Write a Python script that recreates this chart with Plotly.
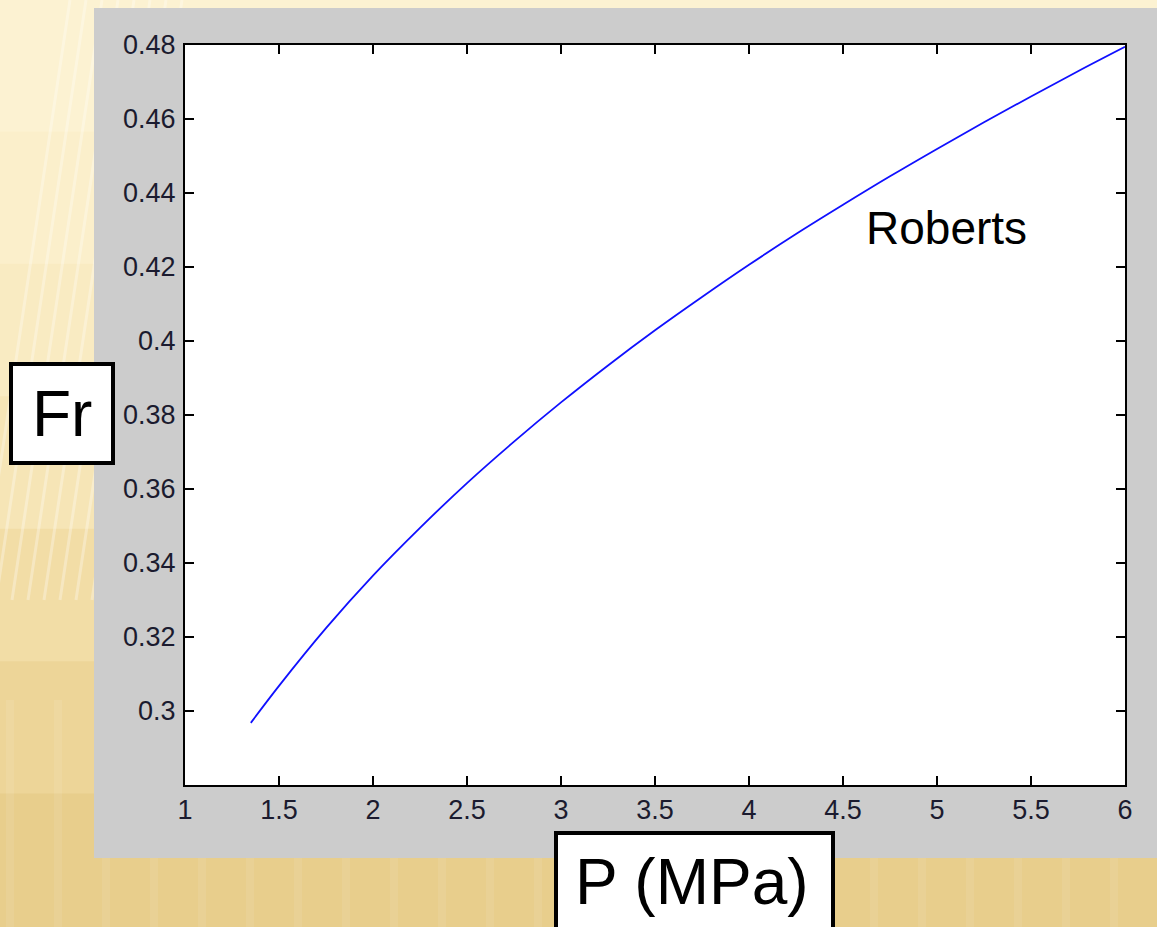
import plotly.graph_objects as go

# ---- data ----
pressure_mpa = [1.35, 1.5, 1.75, 2.0, 2.25, 2.5, 2.75, 3.0, 3.25, 3.5, 3.75,
                4.0, 4.25, 4.5, 4.75, 5.0, 5.25, 5.5, 5.75, 6.0]
fr_roberts = [0.2968, 0.3068, 0.3224, 0.3366, 0.3495, 0.3616, 0.3728, 0.3834,
              0.3934, 0.4029, 0.4119, 0.4206, 0.4289, 0.4368, 0.4445, 0.4519,
              0.4591, 0.4661, 0.4729, 0.4795]

x_tickvals = [1, 1.5, 2, 2.5, 3, 3.5, 4, 4.5, 5, 5.5, 6]
x_ticktext = ["1", "1.5", "2", "2.5", "3", "3.5", "4", "4.5", "5", "5.5", "6"]
y_tickvals = [0.30, 0.32, 0.34, 0.36, 0.38, 0.40, 0.42, 0.44, 0.46, 0.48]
y_ticktext = ["0.3", "0.32", "0.34", "0.36", "0.38", "0.4", "0.42", "0.44", "0.46", "0.48"]

series_label = "Roberts"
x_label = "P (MPa)"
y_label = "Fr"

# ---- layout helpers (pixel -> paper) ----
W, H = 1157, 927
L, R, T, B = 185, 32, 45, 142
PW, PH = W - L - R, H - T - B


def px(x):
    return (x - L) / PW


def py(y):
    return (H - B - y) / PH


fig = go.Figure()
fig.add_trace(go.Scatter(
    x=pressure_mpa, y=fr_roberts, mode="lines",
    line=dict(color="#1010FF", width=1.8, shape="spline"),
    showlegend=False, hoverinfo="x+y",
))

shapes = []
# slide background bands (cream -> golden towards bottom)
band_colors = ["#FCF2D2", "#FBEFCB", "#F9EBC2", "#F6E5B6", "#F2DDA6", "#EDD598", "#E8CE8C"]
n = len(band_colors)
for i, c in enumerate(band_colors):
    shapes.append(dict(type="rect", xref="paper", yref="paper", layer="below",
                       x0=px(-5), x1=px(W + 5), y0=py(H * (i + 1) / n + 1), y1=py(H * i / n - 1),
                       fillcolor=c, line=dict(width=0)))
# faint diagonal stripes on the left strip
for k in range(8):
    x0 = -20 + k * 16
    shapes.append(dict(type="line", xref="paper", yref="paper", layer="below",
                       x0=px(x0), y0=py(600), x1=px(x0 + 90), y1=py(0),
                       line=dict(color="rgba(255,255,255,0.3)", width=3)))
# faint vertical stripes along the bottom strip
for k in range(24):
    xs = 10 + k * 48
    shapes.append(dict(type="line", xref="paper", yref="paper", layer="below",
                       x0=px(xs), y0=py(H + 5), x1=px(xs), y1=py(700),
                       line=dict(color="rgba(255,255,255,0.08)", width=8)))
# gray figure panel
shapes.append(dict(type="rect", xref="paper", yref="paper", layer="below",
                   x0=px(94), x1=px(W + 5), y0=py(858), y1=py(8),
                   fillcolor="#CCCCCC", line=dict(width=0)))
# white plotting area
shapes.append(dict(type="rect", xref="paper", yref="paper", layer="below",
                   x0=0, x1=1, y0=0, y1=1,
                   fillcolor="white", line=dict(width=0)))
# label boxes
shapes.append(dict(type="rect", xref="paper", yref="paper", layer="above",
                   x0=px(11), x1=px(113), y0=py(463), y1=py(364),
                   fillcolor="white", line=dict(color="black", width=4)))
shapes.append(dict(type="rect", xref="paper", yref="paper", layer="above",
                   x0=px(556), x1=px(833), y0=py(H + 10), y1=py(833),
                   fillcolor="white", line=dict(color="black", width=4)))

annotations = [
    dict(text=y_label, xref="paper", yref="paper", x=px(62), y=py(414),
         showarrow=False, xanchor="center", yanchor="middle",
         font=dict(family="Liberation Sans, Arial", size=64, color="black")),
    dict(text=x_label, xref="paper", yref="paper", x=px(692), y=py(882),
         showarrow=False, xanchor="center", yanchor="middle",
         font=dict(family="Liberation Sans, Arial", size=64, color="black")),
    dict(text=series_label, xref="x", yref="y", x=5.05, y=0.4305,
         showarrow=False, xanchor="center", yanchor="middle",
         font=dict(family="Liberation Sans, Arial", size=46, color="black")),
]

axis_common = dict(
    showline=True, linecolor="black", linewidth=2, mirror="allticks",
    ticks="inside", ticklen=9, tickwidth=2, tickcolor="black",
    showgrid=False, zeroline=False,
    tickfont=dict(family="Liberation Sans, Arial", size=27, color="#1B1B2F"),
)

fig.update_layout(
    width=W, height=H,
    margin=dict(l=L, r=R, t=T, b=B, autoexpand=False),
    paper_bgcolor="#F8E9BF",
    plot_bgcolor="white",
    shapes=shapes,
    annotations=annotations,
    xaxis=dict(range=[1, 6], tickvals=x_tickvals, ticktext=x_ticktext,
               ticklabelstandoff=0, **axis_common),
    yaxis=dict(range=[0.28, 0.48], tickvals=y_tickvals, ticktext=y_ticktext,
               ticklabelstandoff=2, **axis_common),
)

fig.write_html(
    "out.html",
    config={"displayModeBar": False},
    post_script="document.body.style.margin='0';document.body.style.overflow='hidden';",
)
